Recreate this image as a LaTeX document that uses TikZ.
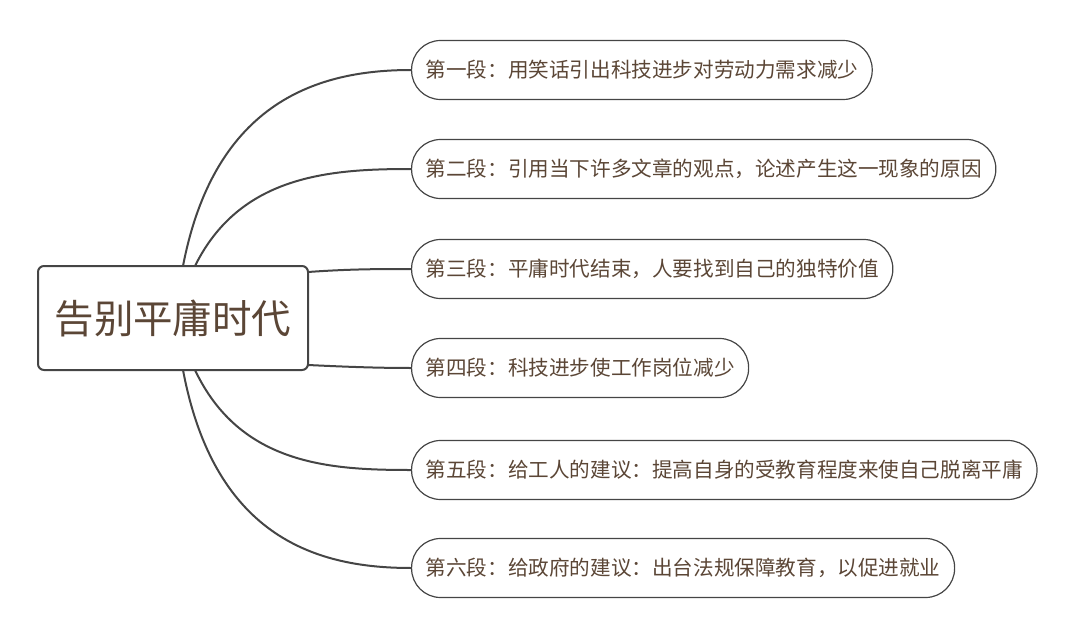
\documentclass[tikz,border=0pt]{standalone}
\usepackage{fontspec}
\newfontfamily\cjk{Noto Sans CJK SC}
\definecolor{txt}{HTML}{5B4636}
\definecolor{ln}{HTML}{454545}
\begin{document}
\begin{tikzpicture}[x=1pt,y=-1pt,
  child/.style={draw=ln,line width=1.2pt,rounded corners=29pt,minimum height=59pt,inner xsep=14pt,anchor=west,font=\cjk\fontsize{20.6}{23}\selectfont,text=txt},
  conn/.style={draw=ln,line width=2pt}]
\useasboundingbox (0,0) rectangle (1080,637);
\node[draw=ln,line width=2pt,rounded corners=6pt,minimum width=270pt,minimum height=104pt,font=\cjk\fontsize{39.5}{44}\selectfont,text=txt] (root) at (173,318) {告别平庸时代};
\node[child] (c1) at (411,70) {第一段：用笑话引出科技进步对劳动力需求减少};
\node[child] (c2) at (411,169) {第二段：引用当下许多文章的观点，论述产生这一现象的原因};
\node[child] (c3) at (411,269) {第三段：平庸时代结束，人要找到自己的独特价值};
\node[child] (c4) at (411,368) {第四段：科技进步使工作岗位减少};
\node[child] (c5) at (411,470) {第五段：给工人的建议：提高自身的受教育程度来使自己脱离平庸};
\node[child] (c6) at (411,568) {第六段：给政府的建议：出台法规保障教育，以促进就业};
\coordinate (s1) at (183,266); \coordinate (s2) at (195,266);
\coordinate (s3) at (308,272); \coordinate (s4) at (308,365);
\coordinate (s5) at (195,370); \coordinate (s6) at (183,370);
\draw[conn] (s1) .. controls (215,100) and (320,70) .. (c1.west);
\draw[conn] (s2) .. controls (240,175) and (330,169) .. (c2.west);
\draw[conn] (s3) .. controls (350,269) and (380,269) .. (c3.west);
\draw[conn] (s4) .. controls (350,367) and (380,368) .. (c4.west);
\draw[conn] (s5) .. controls (240,465) and (330,470) .. (c5.west);
\draw[conn] (s6) .. controls (215,540) and (320,568) .. (c6.west);
\end{tikzpicture}
\end{document}
